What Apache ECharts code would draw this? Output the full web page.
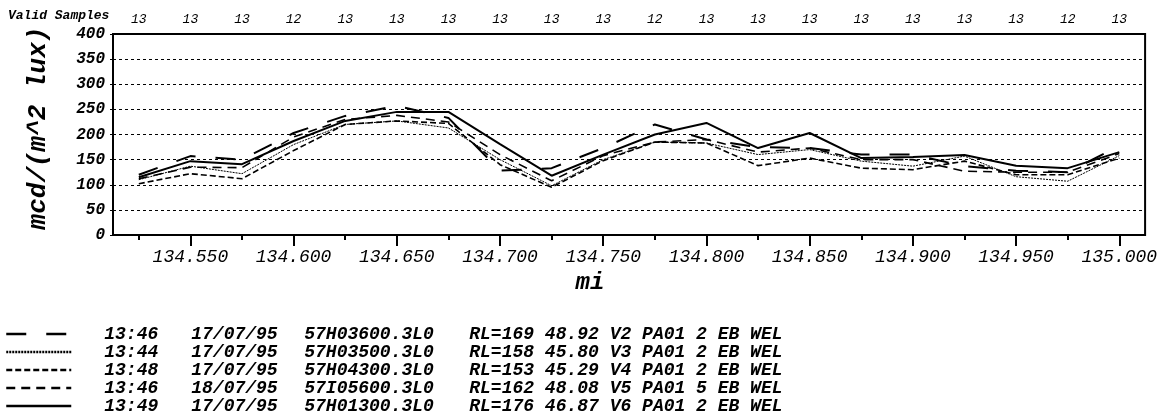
<!DOCTYPE html>
<html>
<head>
<meta charset="utf-8">
<script src="https://cdn.jsdelivr.net/npm/echarts@6/dist/echarts.min.js"></script>
<style>
html,body{margin:0;padding:0;background:#fff;}
#chart{width:1160px;height:415px;}
</style>
</head>
<body>
<div id="chart"></div>
<script>
// ---- data ----
const milePosts = ['134.525','134.550','134.575','134.600','134.625','134.650','134.675','134.700','134.725','134.750',
                   '134.775','134.800','134.825','134.850','134.875','134.900','134.925','134.950','134.975','135.000'];
const validSamples = [13,13,13,12,13,13,13,13,13,13,12,13,13,13,13,13,13,13,12,13];
const yMin = 0, yMax = 400, yStep = 50;

const seriesV2 = [120,157,150,203,237,257,233,128,133,173,220,190,175,173,160,160,137,128,125,177];
const seriesV3 = [110,137,122,180,220,227,213,150, 98,150,185,183,160,170,147,137,157,116,107,158];
const seriesV4 = [102,122,112,168,220,227,222,140, 95,148,185,183,138,153,133,130,147,120,120,153];
const seriesV5 = [112,135,134,195,230,238,225,160,108,158,185,190,165,173,150,150,127,125,125,162];
const seriesV6 = [115,147,141,187,227,245,245,181,118,160,200,223,173,203,153,155,159,138,133,165];

const runTimes = ['13:46','13:44','13:48','13:46','13:49'];
const runDates = ['17/07/95','17/07/95','17/07/95','18/07/95','17/07/95'];
const runFiles = ['57H03600.3L0','57H03500.3L0','57H04300.3L0','57I05600.3L0','57H01300.3L0'];
const runInfo  = ['RL=169 48.92 V2 PA01 2 EB WEL','RL=158 45.80 V3 PA01 2 EB WEL','RL=153 45.29 V4 PA01 2 EB WEL',
                  'RL=162 48.08 V5 PA01 5 EB WEL','RL=176 46.87 V6 PA01 2 EB WEL'];

const yTitle = 'mcd/(m^2 lux)';
const xTitle = 'mi';
const topTitle = 'Valid Samples';

// ---- styles ----
const FONT = '"Liberation Mono", "Courier New", monospace';
const seriesValues = [seriesV2, seriesV3, seriesV4, seriesV5, seriesV6];
const lineStyles = [
  {type:[20,20], width:2},
  {type:[2,1], width:1},
  {type:[6,3], width:1.6},
  {type:[9,6], width:1.6},
  {type:'solid', width:2}
];
const names = runTimes.map((t,i)=>t+' '+runDates[i]+' '+runFiles[i]+' '+runInfo[i]);

const majorOnly = (idx) => idx % 2 === 1;

const chart = echarts.init(document.getElementById('chart'), null, {renderer:'canvas'});
const txt = {fontFamily:FONT, fontStyle:'italic', fontWeight:'bold', color:'#000'};

chart.setOption({
  animation:false,
  backgroundColor:'#fff',
  grid:{left:113, right:11, top:34, bottom:180, show:true, borderColor:'#000', borderWidth:2, containLabel:false},
  xAxis:[
    {type:'category', data:milePosts, position:'bottom', boundaryGap:true,
     axisLine:{show:true, lineStyle:{color:'#000', width:2}},
     axisTick:{show:true, alignWithLabel:true, interval:0, length:5, lineStyle:{color:'#000', width:2}},
     axisLabel:{show:false}, splitLine:{show:false}},
    {type:'category', data:milePosts, position:'bottom', boundaryGap:true,
     axisLine:{show:false},
     axisTick:{show:true, alignWithLabel:true, interval:majorOnly, length:11, lineStyle:{color:'#000', width:2}},
     axisLabel:{show:true, interval:majorOnly, margin:13, fontSize:18, fontFamily:FONT, fontStyle:'italic', fontWeight:'normal', color:'#000'},
     splitLine:{show:false}},
    {type:'category', data:validSamples, position:'top', boundaryGap:true,
     axisLine:{show:false}, axisTick:{show:false},
     axisLabel:{show:true, interval:0, margin:8, fontSize:13, fontFamily:FONT, fontStyle:'italic', color:'#000'},
     splitLine:{show:false}}
  ],
  yAxis:{type:'value', min:yMin, max:yMax, interval:yStep,
     axisLine:{show:false},
     axisTick:{show:true, length:3, lineStyle:{color:'#000', width:1}},
     axisLabel:{margin:8, fontSize:16, ...txt},
     splitLine:{show:true, lineStyle:{color:'#000', width:1, type:[3,3]}}},
  legend:{
    orient:'vertical', left:5, top:325, height:90, itemWidth:65, itemHeight:1, itemGap:0,
    padding:0,
    data:names,
    lineStyle:{width:2.5},
    itemStyle:{opacity:0},
    formatter:(name)=>{
      const i = names.indexOf(name);
      return '{s|}{t|'+runTimes[i]+'}{d|'+runDates[i]+'}{f|'+runFiles[i]+'}{r|'+runInfo[i]+'}';
    },
    textStyle:{fontSize:18, lineHeight:17.5, ...txt,
      rich:{
        s:{width:28, fontSize:18, lineHeight:17.5},
        t:{width:87, fontSize:18, lineHeight:17.5, ...txt},
        d:{width:113, fontSize:18, lineHeight:17.5, ...txt},
        f:{width:165, fontSize:18, lineHeight:17.5, ...txt},
        r:{fontSize:18, lineHeight:17.5, ...txt}
      }}
  },
  graphic:[
    {type:'text', left:8, top:9, style:{text:topTitle, font:'italic bold 13px '+FONT, fill:'#000'}},
    {type:'text', x:38, y:128, rotation:Math.PI/2, style:{text:yTitle, font:'italic bold 26px '+FONT, fill:'#000', align:'center', verticalAlign:'middle'}},
    {type:'text', x:590, y:283, style:{text:xTitle, font:'italic bold 24px '+FONT, fill:'#000', align:'center', verticalAlign:'middle'}}
  ],
  series: seriesValues.map((vals,i)=>({
    name:names[i], type:'line', data:vals, xAxisIndex:0, yAxisIndex:0,
    symbol:'none', showSymbol:false,
    lineStyle:{color:'#000', width:lineStyles[i].width, type:lineStyles[i].type},
    itemStyle:{color:'#000'},
    emphasis:{disabled:true}
  }))
});
</script>
</body>
</html>
